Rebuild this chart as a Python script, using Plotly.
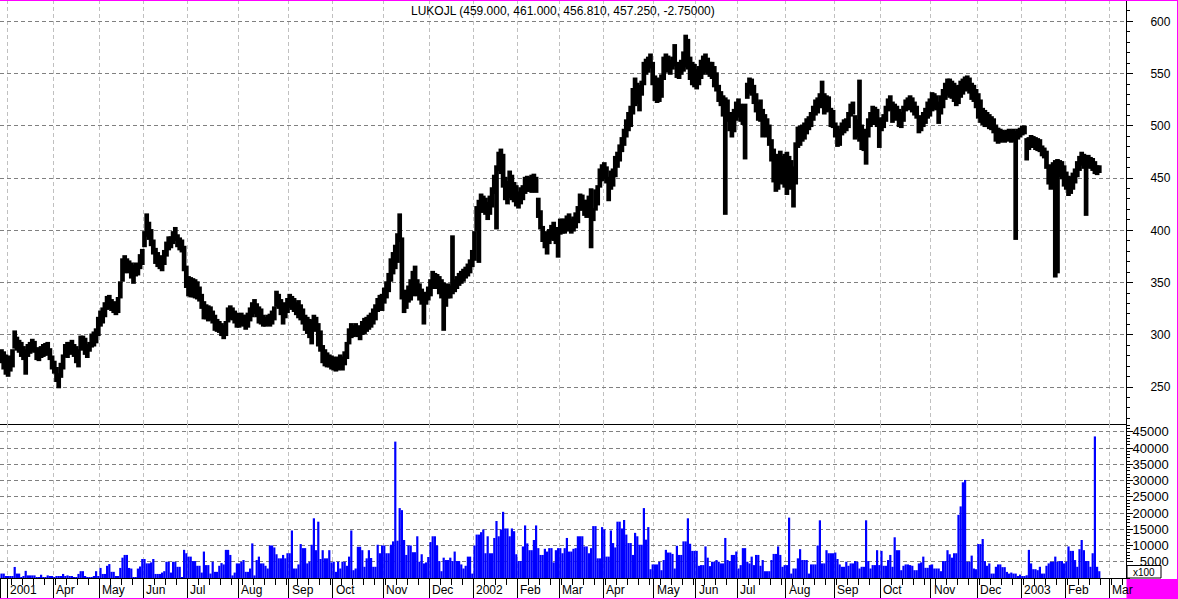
import plotly.graph_objects as go
from plotly.subplots import make_subplots

title_text = "LUKOJL (459.000, 461.000, 456.810, 457.250, -2.75000)"

high = [
    285, 283, 280, 274, 279, 285, 303, 297, 294, 292,
    288, 285, 290, 292, 295, 293, 287, 285, 288, 290,
    291, 292, 286, 279, 274, 268, 262, 272, 280, 290,
    292, 292, 294, 290, 288, 285, 298, 298, 296, 290,
    292, 300, 302, 305, 316, 322, 325, 330, 336, 337,
    333, 331, 330, 335, 350, 372, 375, 372, 370, 368,
    366, 368, 366, 376, 381, 398, 415, 407, 400, 390,
    382, 378, 375, 373, 380, 388, 393, 393, 398, 402,
    395, 392, 390, 384, 365, 355, 354, 353, 352, 350,
    345, 338, 331, 328, 327, 326, 322, 318, 314, 312,
    310, 308, 312, 325, 327, 325, 322, 320, 318, 320,
    318, 318, 320, 325, 330, 333, 329, 326, 324, 318,
    316, 318, 319, 322, 326, 341, 338, 333, 327, 330,
    334, 338, 336, 334, 330, 332, 328, 324, 318, 316,
    314, 313, 318, 316, 310, 303, 289, 285, 282, 280,
    279, 278, 276, 278, 280, 278, 283, 292, 305, 310,
    308, 310, 308, 306, 312, 315, 316, 318, 320, 324,
    328, 334, 337, 338, 344, 350, 358, 372, 378, 385,
    396, 415, 392, 340, 342, 346, 352, 360, 365, 352,
    348, 343, 338, 340, 345, 352, 360, 358, 357, 355,
    352, 349, 345, 348, 346, 394, 352, 355, 358, 360,
    362, 364, 367, 371, 380, 398, 422, 428, 434, 432,
    430, 426, 432, 440, 452, 461, 474, 477, 472, 450,
    446, 456, 452, 445, 442, 436, 440, 442, 450, 451,
    450, 452, 453, 450, 430, 418, 403, 398, 394, 400,
    404, 407, 402, 400, 410, 410, 410, 413, 415, 410,
    412, 416, 422, 434, 433, 428, 428, 432, 439, 420,
    438, 442, 458, 462, 464, 460, 450, 456, 458, 470,
    474, 481, 488, 496, 505, 512, 518, 535, 545, 540,
    538, 542, 560, 563, 565, 568, 560, 547, 545, 544,
    548, 565, 568, 566, 562, 565, 577, 560, 558, 562,
    570, 586, 582, 565, 560, 558, 553, 556, 562, 566,
    568, 564, 560, 560, 556, 550, 538, 532, 528, 526,
    524, 512, 505, 515, 522, 525, 520, 518, 520, 540,
    545, 544, 538, 530, 522, 524, 515, 510, 506, 500,
    486, 477, 467, 472, 475, 470, 472, 474, 470, 466,
    460, 483, 498, 499, 500, 502, 506, 508, 512, 518,
    524, 526, 530, 542, 530, 528, 527, 516, 514, 502,
    499, 496, 502, 505, 506, 512, 520, 522, 509, 505,
    543, 500, 496, 490, 506, 512, 518, 517, 515, 506,
    507, 510, 518, 525, 528, 522, 520, 518, 515, 512,
    518, 524, 526, 528, 526, 522, 518, 509, 508, 512,
    516, 522, 525, 531, 530, 528, 522, 528, 534, 540,
    544, 544, 542, 540, 537, 538, 542, 544, 546, 547,
    545, 540, 538, 534, 530, 524, 516, 514, 512, 510,
    508, 506, 500, 497, 496, 495, 494, 495, 496, 495,
    496, 494, 496, 497, 499, 499, 487, 488, 490, 489,
    488, 487, 486, 480, 478, 475, 462, 460, 464, 466,
    467, 466, 465, 461, 455, 451, 450, 454, 458, 465,
    470, 474, 472, 470, 471, 469, 468, 465, 461, 461,
]

low = [
    274, 268, 263, 261, 266, 270, 288, 286, 284, 280,
    277, 263, 280, 283, 285, 284, 277, 276, 279, 280,
    281, 282, 277, 268, 264, 256, 250, 260, 268, 280,
    279, 282, 284, 280, 274, 270, 286, 287, 282, 279,
    285, 289, 290, 293, 300, 309, 312, 318, 325, 326,
    324, 322, 320, 322, 336, 352, 360, 361, 360, 355,
    350, 357, 358, 364, 368, 385, 395, 392, 386, 378,
    369, 366, 364, 362, 368, 376, 382, 384, 388, 391,
    385, 382, 380, 362, 346, 338, 337, 337, 336, 335,
    333, 326, 316, 316, 314, 315, 312, 305, 304, 303,
    300, 297, 300, 313, 316, 315, 312, 308, 308, 310,
    309, 306, 308, 314, 318, 321, 318, 312, 311, 309,
    309, 310, 309, 311, 315, 328, 326, 320, 311, 317,
    322, 327, 325, 323, 320, 317, 315, 311, 305, 302,
    298, 292, 306, 304, 290, 285, 274, 271, 270, 270,
    268, 267, 266, 267, 268, 267, 272, 278, 292, 298,
    299, 300, 299, 296, 301, 302, 304, 306, 308, 311,
    315, 323, 326, 324, 331, 336, 342, 352, 359, 364,
    370, 390, 335, 322, 326, 332, 334, 338, 340, 338,
    334, 330, 311, 330, 334, 338, 345, 346, 345, 340,
    336, 305, 328, 336, 336, 340, 342, 345, 348, 350,
    352, 355, 357, 360, 366, 372, 400, 370, 418, 418,
    416, 411, 416, 423, 436, 402, 458, 455, 442, 430,
    426, 432, 430, 428, 424, 422, 426, 430, 436, 438,
    438, 437, 439, 437, 413, 402, 390, 384, 378, 388,
    392, 391, 388, 375, 397, 398, 398, 400, 401, 398,
    400, 403, 408, 420, 420, 415, 413, 418, 384, 410,
    420, 425, 442, 448, 450, 446, 429, 440, 443, 452,
    461, 467, 476, 482, 490, 496, 500, 512, 520, 522,
    515, 530, 540, 550, 552, 556, 540, 525, 523, 524,
    528, 545, 556, 552, 550, 555, 558, 547, 546, 550,
    553, 557, 555, 545, 540, 538, 536, 540, 546, 550,
    552, 550, 548, 546, 538, 534, 524, 520, 510, 416,
    505, 496, 490, 495, 506, 509, 505, 502, 469, 527,
    532, 530, 522, 514, 506, 505, 490, 496, 490, 482,
    467, 447, 438, 440, 446, 445, 442, 435, 443, 440,
    423, 445, 480, 482, 486, 488, 493, 497, 500, 506,
    511, 513, 518, 522, 512, 514, 515, 500, 499, 490,
    481, 482, 492, 494, 496, 499, 510, 512, 488, 490,
    486, 478, 477, 464, 490, 500, 502, 502, 500, 480,
    496, 499, 505, 515, 516, 504, 506, 508, 500, 499,
    505, 515, 516, 518, 514, 511, 508, 494, 496, 500,
    503, 508, 510, 515, 517, 516, 503, 512, 518, 526,
    530, 528, 527, 524, 520, 522, 528, 531, 534, 535,
    532, 526, 524, 518, 508, 504, 502, 500, 500, 498,
    497, 494, 486, 484, 485, 486, 485, 486, 487, 485,
    486, 392, 488, 490, 492, 493, 468, 478, 480, 480,
    478, 477, 476, 472, 470, 460, 445, 440, 450, 356,
    360, 452, 450, 443, 440, 434, 436, 440, 446, 452,
    458, 463, 460, 415, 461, 460, 458, 455, 454, 456,
]

volume = [
    1360, 1360, 600, 600, 600, 600, 3400, 1360, 1360, 300,
    600, 2200, 800, 800, 800, 800, 300, 300, 1000, 200,
    300, 800, 600, 600, 200, 600, 500, 500, 1250, 600,
    800, 400, 400, 200, 200, 1250, 2100, 2100, 400, 300,
    300, 200, 600, 2100, 600, 3100, 1250, 1250, 3750, 4280,
    1900, 1900, 600, 600, 3100, 6260, 7100, 7100, 3100, 2900,
    300, 300, 2900, 3550, 5850, 5850, 4500, 4500, 4800, 5850,
    1250, 1250, 1250, 1670, 2100, 5000, 5000, 1670, 5000, 5000,
    3440, 3440, 200, 8660, 7620, 6580, 6580, 5220, 5220, 3760,
    3760, 1670, 8140, 3970, 3970, 1360, 5000, 1900, 1900, 3760,
    4590, 4180, 8660, 8660, 7100, 800, 1670, 4490, 4490, 5000,
    5530, 1900, 1900, 2920, 10650, 800, 5530, 6580, 4490, 4490,
    3760, 2920, 10020, 10020, 9400, 7310, 6050, 6050, 7100, 6050,
    7620, 7620, 14620, 2920, 2920, 4180, 10440, 9190, 9190, 4490,
    5010, 10230, 18370, 8560, 17330, 5850, 8560, 6050, 6050, 8560,
    4800, 5010, 1900, 5010, 2920, 5010, 5010, 3760, 6580, 14620,
    2400, 2920, 9610, 9610, 8560, 3450, 6050, 8560, 6160, 3450,
    3450, 10230, 7620, 10020, 10020, 7620, 7620, 10230, 11270, 41970,
    11480, 21510, 20880, 11690, 7100, 10020, 10020, 7940, 7940, 12840,
    5010, 7310, 4490, 4800, 6470, 11060, 12840, 12840, 10020, 5220,
    2090, 6260, 5530, 5530, 6260, 5220, 8140, 5220, 5220, 4180,
    2920, 3760, 6580, 6580, 1360, 10020, 13360, 13360, 14100, 14930,
    7620, 12840, 7620, 7620, 12320, 17540, 12840, 14930, 20360, 15240,
    15240, 12840, 15240, 14410, 7310, 5220, 5220, 9710, 16180, 10650,
    8560, 8560, 11690, 16180, 9190, 7100, 7100, 8980, 8140, 9190,
    9190, 4800, 8560, 9190, 9190, 7620, 9190, 12320, 8140, 8140,
    8980, 9190, 12840, 12840, 12840, 9710, 9710, 7620, 9190, 15970,
    15970, 6050, 6050, 15660, 14930, 6580, 6580, 14620, 10750, 9400,
    17330, 17330, 15240, 17850, 13360, 10750, 10750, 7100, 13890, 12840,
    10230, 10230, 21510, 11800, 15660, 2700, 4180, 4180, 4180, 5010,
    2400, 5530, 8660, 7830, 7830, 7410, 2920, 9920, 7100, 7100,
    11270, 11270, 18370, 10540, 8350, 8350, 8350, 3760, 3970, 3970,
    9710, 6260, 3650, 5010, 5010, 5530, 5010, 4490, 4490, 12320,
    5530, 5220, 7100, 7100, 8140, 2920, 3970, 9190, 9190, 5010,
    4490, 6580, 3970, 7100, 7100, 3760, 5530, 2090, 2090, 2090,
    5530, 7410, 7410, 9710, 7100, 3450, 3970, 3970, 18580, 1360,
    2920, 2920, 6050, 8870, 5530, 5530, 5530, 1360, 4180, 4180,
    4180, 10020, 17750, 4490, 4490, 8560, 7620, 7620, 7620, 7830,
    5840, 4180, 3450, 3450, 5010, 3760, 4490, 4490, 5220, 5010,
    2920, 3450, 3450, 17750, 5220, 2920, 3970, 3970, 8560, 3970,
    8350, 3760, 3760, 5530, 7100, 3450, 12530, 8560, 8560, 2400,
    3760, 4180, 4180, 3970, 3760, 2400, 2400, 4490, 4800, 6580,
    3130, 3130, 3970, 4180, 2920, 2920, 2920, 2090, 5220, 5220,
    8560, 7310, 6260, 7620, 7620, 19420, 22030, 29440, 30170, 5010,
    5010, 6890, 2920, 2710, 10440, 10440, 12010, 5220, 3760, 4490,
    1360, 1360, 3450, 4180, 4180, 3340, 3340, 1880, 1360, 1670,
    1360, 1360, 630, 1040, 520, 520, 840, 8660, 4490, 2710,
    2710, 2400, 3450, 1360, 1360, 3760, 4490, 5010, 5010, 6580,
    5010, 5220, 5220, 4490, 5010, 9710, 8350, 8350, 5520, 3450,
    8870, 11690, 8560, 5220, 5220, 3450, 7620, 43560, 3450, 2090,
]

# first trading-day index of each month and its label
month_start = [0, 3, 24, 45, 65, 85, 108, 131, 151, 174, 195, 215, 235,
               254, 274, 297, 316, 335, 357, 379, 400, 423, 444, 464, 484, 504]
month_label = ["", "2001", "Apr", "May", "Jun", "Jul", "Aug", "Sep", "Oct",
               "Nov", "Dec", "2002", "Feb", "Mar", "Apr", "May", "Jun", "Jul",
               "Aug", "Sep", "Oct", "Nov", "Dec", "2003", "Feb", "Mar"]

price_ticks = [250, 300, 350, 400, 450, 500, 550, 600]
vol_ticks = [5000, 10000, 15000, 20000, 25000, 30000, 35000, 40000, 45000]
vol_ticktext = [("\u2007" + str(v)) if v < 10000 else str(v) for v in vol_ticks]

FONT = "Liberation Sans, Arial, sans-serif"
W, H = 1178, 599
ML, MR, MT, MB = 0, 52, 0, 21
PW = W - ML - MR           # 1126
PH = H - MT - MB           # 578
vol_frac = 154 / PH

n = len(high)
idx = list(range(n))
span = [h - l for h, l in zip(high, low)]
boundaries = [s - 0.5 for s in month_start]
xr = [-0.68, 511.14]

fig = make_subplots(rows=2, cols=1, shared_xaxes=True, vertical_spacing=0,
                    row_heights=[1 - vol_frac, vol_frac])

fig.add_trace(go.Bar(x=idx, y=span, base=low, width=1.0,
                     marker=dict(color="black", line=dict(color="black", width=2.5)),
                     hoverinfo="skip"), row=1, col=1)
fig.add_trace(go.Bar(x=idx, y=volume, width=1.0,
                     marker=dict(color="#0000ff", line=dict(width=0)),
                     hoverinfo="skip"), row=2, col=1)

grid_v = dict(showgrid=True, gridcolor="#c0c0c0", griddash="4px,3px", gridwidth=1)
fig.update_xaxes(range=xr, tickmode="array", tickvals=boundaries, zeroline=False,
                 showline=True, linecolor="black", linewidth=1, **grid_v)
fig.update_xaxes(ticks="", showticklabels=False, row=1, col=1)
fig.update_xaxes(ticks="outside", ticklen=20, tickcolor="black", tickwidth=1,
                 showticklabels=False,
                 minor=dict(ticks="outside", ticklen=6, tickcolor="black",
                            tick0=-0.5, dtick=5, showgrid=False),
                 row=2, col=1)

grid_h = dict(showgrid=True, gridcolor="#808080", griddash="4px,3px", gridwidth=1)
fig.update_yaxes(side="right", range=[214.64, 620.38], tickmode="array",
                 tickvals=price_ticks, ticks="outside", ticklen=6, tickcolor="black",
                 minor=dict(ticks="outside", ticklen=3, tickcolor="black",
                            tick0=0, dtick=10, showgrid=False),
                 showline=True, linecolor="black", linewidth=1, zeroline=False,
                 tickfont=dict(family=FONT, size=12, color="black"),
                 ticklabelstandoff=15, **grid_h, row=1, col=1)
fig.update_yaxes(side="right", range=[0, 47386], tickmode="array",
                 tickvals=vol_ticks, ticktext=vol_ticktext,
                 ticks="outside", ticklen=6, tickcolor="black",
                 minor=dict(ticks="outside", ticklen=3, tickcolor="black",
                            tick0=0, dtick=1000, showgrid=False),
                 showline=True, linecolor="black", linewidth=1, zeroline=False,
                 tickfont=dict(family=FONT, size=13, color="black"),
                 ticklabelstandoff=-3, **grid_h, row=2, col=1)

annotations = []
for s, lab in zip(month_start, month_label):
    if not lab:
        continue
    annotations.append(dict(x=s - 0.5, xref="x2", y=-12 / PH, yref="paper",
                            text=lab, showarrow=False, xanchor="left",
                            yanchor="middle", xshift=1,
                            font=dict(family=FONT, size=12, color="black")))
annotations.append(dict(x=0.5, xref="paper", y=1 - 11 / PH, yref="paper",
                        text=title_text, showarrow=False, xanchor="center",
                        yanchor="middle",
                        font=dict(family=FONT, size=12, color="black")))
annotations.append(dict(x=1144 / PW, xref="paper", y=6.0 / PH, yref="paper",
                        text="x100", showarrow=False, xanchor="center",
                        yanchor="middle",
                        font=dict(family=FONT, size=10, color="black")))

mag = "#ff00ff"
fx = lambda px: px / PW
fy = lambda py: (PH - py) / PH
shapes = [
    dict(type="rect", xref="paper", yref="paper", x0=fx(0), x1=fx(W), y0=fy(1), y1=fy(0),
         fillcolor=mag, line=dict(width=0), layer="above"),
    dict(type="rect", xref="paper", yref="paper", x0=fx(0), x1=fx(W), y0=fy(599), y1=fy(598),
         fillcolor=mag, line=dict(width=0), layer="above"),
    dict(type="rect", xref="paper", yref="paper", x0=fx(1177), x1=fx(W), y0=fy(599), y1=fy(0),
         fillcolor=mag, line=dict(width=0), layer="above"),
    dict(type="rect", xref="paper", yref="paper", x0=fx(1126.5), x1=fx(W), y0=fy(599), y1=fy(579),
         fillcolor=mag, line=dict(width=0), layer="above"),
    dict(type="rect", xref="paper", yref="paper", x0=fx(1127), x1=fx(1161), y0=fy(578), y1=fy(565.5),
         fillcolor="white", line=dict(color="black", width=1), layer="above"),
]

fig.update_layout(width=W, height=H, margin=dict(l=ML, r=MR, t=MT, b=MB),
                  paper_bgcolor="white", plot_bgcolor="white",
                  barmode="overlay", showlegend=False,
                  font=dict(family=FONT, size=12, color="black"),
                  annotations=annotations, shapes=shapes)

fig.write_html("out.html", config={"displayModeBar": False},
               post_script="document.body.style.margin='0px';document.body.style.padding='0px';document.body.style.overflow='hidden';")
